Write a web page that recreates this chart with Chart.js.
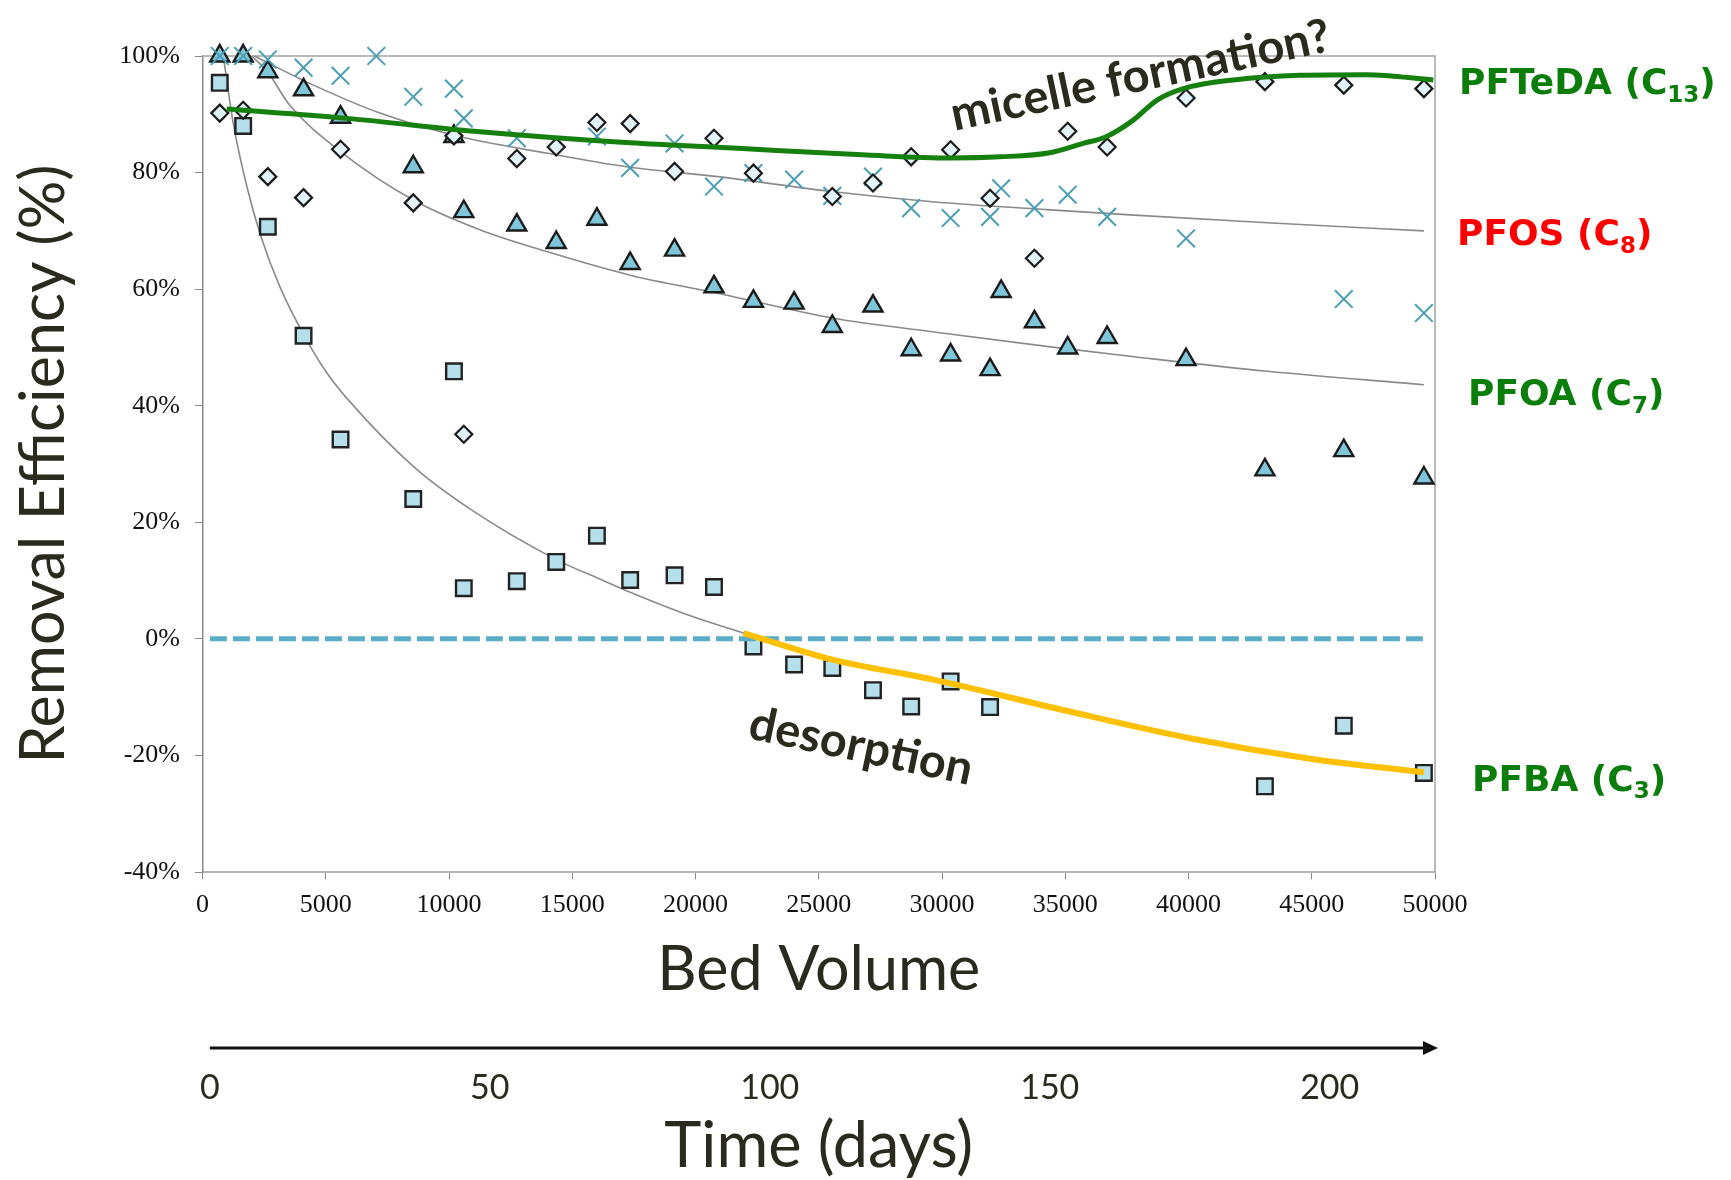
<!DOCTYPE html>
<html lang="en">
<head>
<meta charset="UTF-8" />
<title>Removal Efficiency vs Bed Volume</title>
<script src="https://cdn.jsdelivr.net/npm/chart.js"></script>
<style>
  body { margin: 0; background: #fff; }
  canvas { display: block; }
</style>
</head>
<body>
<canvas id="chart" width="1731" height="1180"></canvas>
<script>
// measured points: bed volume -> removal efficiency (%)
const pftedaBv  = [700, 1650, 2650, 4100, 5600, 8550, 10200, 10600, 12750, 14350, 16000, 17350, 19150, 20750, 22350, 25550, 27200, 28750, 30350, 31950, 33750, 35100, 36700, 39900, 43100, 46300, 49550];
const pftedaPct = [90.2, 90.7, 79.3, 75.7, 84.0, 74.8, 86.3, 35.1, 82.4, 84.4, 88.6, 88.4, 80.2, 85.9, 79.9, 75.9, 78.2, 82.7, 83.9, 75.6, 65.3, 87.1, 84.4, 92.8, 95.6, 95.0, 94.4];

const pfosBv  = [700, 1650, 2650, 4100, 5600, 7050, 8550, 10200, 10600, 12750, 16000, 17350, 19150, 20750, 22350, 24000, 25550, 27200, 28750, 30350, 31950, 32400, 33750, 35100, 36700, 39900, 46300, 49550];
const pfosPct = [100, 100, 99.4, 98.0, 96.6, 100, 93.0, 94.4, 89.3, 85.9, 86.2, 80.8, 85.0, 77.6, 79.9, 78.8, 76.0, 79.3, 73.9, 72.2, 72.4, 77.3, 73.9, 76.2, 72.4, 68.7, 58.3, 55.9];

const pfoaBv  = [700, 1650, 2650, 4100, 5600, 8550, 10200, 10600, 12750, 14350, 16000, 17350, 19150, 20750, 22350, 24000, 25550, 27200, 28750, 30350, 31950, 32400, 33750, 35100, 36700, 39900, 43100, 46300, 49550];
const pfoaPct = [100, 100, 97.3, 94.2, 89.5, 81.0, 86.2, 73.3, 71.0, 68.0, 72.0, 64.4, 66.7, 60.4, 57.9, 57.6, 53.6, 57.1, 49.6, 48.7, 46.2, 59.6, 54.4, 49.9, 51.7, 47.9, 29.0, 32.3, 27.6];

const pfbaBv  = [700, 1650, 2650, 4100, 5600, 8550, 10200, 10600, 12750, 14350, 16000, 17350, 19150, 20750, 22350, 24000, 25550, 27200, 28750, 30350, 31950, 43100, 46300, 49550];
const pfbaPct = [95.4, 88.0, 70.7, 52.0, 34.2, 24.0, 45.9, 8.7, 9.9, 13.2, 17.7, 10.1, 10.9, 8.9, -1.3, -4.4, -5.0, -8.8, -11.6, -7.3, -11.7, -25.3, -14.9, -23.0];

// trend lines
const pfosFitBv  = [2100, 4500, 7200, 10200, 14000, 17200, 20900, 25600, 29600, 34400, 37800, 43200, 49550];
const pfosFitPct = [100, 95, 90.2, 86.4, 83.3, 81.0, 79.3, 76.7, 75.0, 73.6, 72.7, 71.4, 70.0];

const pfoaFitBv  = [2000, 2650, 3550, 5600, 8550, 11250, 14000, 17350, 20900, 25600, 29600, 34400, 37800, 43200, 49550];
const pfoaFitPct = [100, 97.2, 91.5, 83.6, 75.3, 70.2, 66.4, 62.4, 59.3, 55.0, 52.7, 50.1, 48.4, 45.9, 43.6];

const pfbaFitBv  = [850, 1250, 1800, 2350, 3150, 4130, 5050, 5850, 8550, 10850, 14350, 16100, 17400, 19500, 21950, 25600, 29650, 35000, 40000, 45000, 49550];
const pfbaFitPct = [99.8, 88.4, 77.6, 69.3, 60.3, 52.0, 45.6, 41.3, 29.6, 22.3, 13.6, 10.3, 7.9, 4.4, 1.0, -3.6, -7.0, -12.3, -17.0, -20.6, -22.9];

const desorptionBv  = [21950, 25600, 29650, 35000, 40000, 45000, 49550];
const desorptionPct = [1.0, -3.6, -7.0, -12.3, -17.0, -20.6, -22.9];

const micelleBv  = [980, 5850, 11260, 17340, 21530, 26950, 30330, 32350, 34380, 35730, 36680, 37760, 38710, 39790, 41820, 44520, 47230, 49930];
const micellePct = [90.9, 89.3, 87.0, 85.1, 84.2, 83.0, 82.5, 82.7, 83.4, 85.0, 86.2, 89.0, 92.4, 94.4, 95.9, 96.7, 96.8, 95.9];

const zeroBv  = [300, 49600];
const zeroPct = [0, 0];

// axes
const bvTicks  = [0, 5000, 10000, 15000, 20000, 25000, 30000, 35000, 40000, 45000, 50000];
const pctTicks = [-40, -20, 0, 20, 40, 60, 80, 100];
const dayTicks = [0, 50, 100, 150, 200];

// labels on the right (name, subscript, colour, level in %)
const seriesNames  = ['PFTeDA (C', 'PFOS (C', 'PFOA (C', 'PFBA (C'];
const seriesSubs   = ['13', '8', '7', '3'];
const seriesColors = ['#0a7d0a', '#ff0000', '#0a7d0a', '#0a7d0a'];
const seriesLevels = [95.7, 69.8, 42.4, -23.8];
const seriesShift  = [24, 22, 33, 37];

// rotated notes
const noteTexts  = ['micelle formation?', 'desorption'];
const noteBv     = [38050, 26710];
const notePct    = [96.6, -18.5];
const noteAngles = [-12, 12];

const pts = (xs, ys) => xs.map((x, i) => ({ x: x, y: ys[i] }));
const dark = '#2b2a1e';

const markers = (label, xs, ys, style, radius, fill, stroke, bw) => ({
  label: label,
  data: pts(xs, ys),
  showLine: false,
  pointStyle: style,
  pointRadius: radius,
  pointBackgroundColor: fill,
  pointBorderColor: stroke,
  pointBorderWidth: bw,
  clip: false
});

const curve = (label, xs, ys, color, width) => ({
  label: label,
  data: pts(xs, ys),
  showLine: true,
  borderColor: color,
  borderWidth: width,
  pointRadius: 0,
  cubicInterpolationMode: 'monotone',
  clip: false
});

const overlay = {
  id: 'overlay',
  beforeDatasetsDraw(chart) {
    const { ctx, chartArea: a } = chart;
    ctx.save();
    ctx.strokeStyle = '#a3a3a3';
    ctx.lineWidth = 1.5;
    ctx.beginPath();
    ctx.moveTo(a.left, a.top);
    ctx.lineTo(a.right, a.top);
    ctx.lineTo(a.right, a.bottom);
    ctx.stroke();
    ctx.restore();
  },
  afterDraw(chart) {
    const { ctx, chartArea: a, scales } = chart;
    ctx.save();

    // time arrow, from day 0 to past the plot's right edge
    const t = scales.x2;
    const ay = t.top;
    const tip = a.right + 3;
    ctx.strokeStyle = '#111';
    ctx.lineWidth = 3;
    ctx.beginPath();
    ctx.moveTo(t.getPixelForValue(dayTicks[0]), ay);
    ctx.lineTo(tip - 10, ay);
    ctx.stroke();
    ctx.fillStyle = '#111';
    ctx.beginPath();
    ctx.moveTo(tip, ay);
    ctx.lineTo(tip - 15, ay - 7);
    ctx.lineTo(tip - 15, ay + 7);
    ctx.closePath();
    ctx.fill();

    // notes
    ctx.fillStyle = dark;
    ctx.font = 'bold 47px Lato';
    ctx.textAlign = 'center';
    ctx.textBaseline = 'middle';
    noteTexts.forEach((txt, i) => {
      ctx.save();
      ctx.translate(scales.x.getPixelForValue(noteBv[i]), scales.y.getPixelForValue(notePct[i]));
      ctx.rotate(noteAngles[i] * Math.PI / 180);
      ctx.fillText(txt, 0, 0);
      ctx.restore();
    });

    // compound labels with subscripts
    ctx.textAlign = 'left';
    ctx.textBaseline = 'alphabetic';
    const size = 36;
    seriesNames.forEach((name, i) => {
      let x = a.right + seriesShift[i];
      const base = scales.y.getPixelForValue(seriesLevels[i]) + size * 0.36;
      ctx.fillStyle = seriesColors[i];
      ctx.font = 'bold ' + size + 'px "DejaVu Sans"';
      ctx.fillText(name, x, base);
      x += ctx.measureText(name).width;
      ctx.font = 'bold ' + Math.round(size * 0.65) + 'px "DejaVu Sans"';
      ctx.fillText(seriesSubs[i], x, base + size * 0.22);
      x += ctx.measureText(seriesSubs[i]).width;
      ctx.font = 'bold ' + size + 'px "DejaVu Sans"';
      ctx.fillText(')', x, base);
    });
    ctx.restore();
  }
};

new Chart(document.getElementById('chart'), {
  type: 'scatter',
  data: {
    datasets: [
      curve('PFTeDA trend', micelleBv, micellePct, '#16800f', 5),
      curve('desorption', desorptionBv, desorptionPct, '#ffc000', 6),
      Object.assign(curve('zero', zeroBv, zeroPct, '#5badc7', 5), { borderDash: [17, 6] }),
      markers('PFTeDA', pftedaBv, pftedaPct, 'rectRot', 8.5, '#e2f4f9', '#1b1b1b', 2.2),
      markers('PFOS', pfosBv, pfosPct, 'crossRot', 12.5, '#4a9db5', '#4a9db5', 2),
      markers('PFOA', pfoaBv, pfoaPct, 'triangle', 11, '#80c6da', '#1b1b1b', 2.4),
      markers('PFBA', pfbaBv, pfbaPct, 'rect', 11, '#b5dfea', '#222', 2.4),
      curve('PFOS fit', pfosFitBv, pfosFitPct, '#8a8a8a', 1.6),
      curve('PFOA fit', pfoaFitBv, pfoaFitPct, '#8a8a8a', 1.6),
      curve('PFBA fit', pfbaFitBv, pfbaFitPct, '#8a8a8a', 1.6)
    ]
  },
  options: {
    responsive: false,
    animation: false,
    events: [],
    devicePixelRatio: 1,
    layout: { padding: { top: 56, right: 296, left: 0, bottom: 0 } },
    plugins: { legend: { display: false }, tooltip: { enabled: false } },
    scales: {
      x: {
        type: 'linear',
        position: 'bottom',
        weight: 0,
        min: 0,
        max: 50000,
        afterBuildTicks: s => { s.ticks = bvTicks.map(v => ({ value: v })); },
        afterFit: s => { s.height = 176; },
        grid: { drawOnChartArea: false, drawTicks: true, tickLength: 7.5, color: '#8a8a8a' },
        border: { color: '#b5b5b5', width: 2 },
        ticks: {
          padding: 10,
          maxRotation: 0,
          autoSkip: false,
          color: '#111',
          font: { family: '"Liberation Serif"', size: 26 },
          callback: v => String(v)
        },
        title: {
          display: true,
          text: 'Bed Volume',
          color: dark,
          font: { family: 'Lato', size: 61, lineHeight: 1 },
          padding: { top: 0, bottom: 47 }
        }
      },
      x2: {
        type: 'linear',
        axis: 'x',
        position: 'bottom',
        weight: 1,
        min: -1.3,
        max: 218.8,
        afterBuildTicks: s => { s.ticks = dayTicks.map(v => ({ value: v })); },
        afterFit: s => { s.height = 132; },
        grid: { display: false, drawTicks: false },
        border: { display: false },
        ticks: {
          padding: 20,
          maxRotation: 0,
          autoSkip: false,
          color: dark,
          font: { family: 'Lato', size: 34 },
          callback: v => String(v)
        },
        title: {
          display: true,
          text: 'Time (days)',
          color: dark,
          font: { family: 'Lato', size: 63, lineHeight: 1 },
          padding: { top: 0, bottom: 2 }
        }
      },
      y: {
        type: 'linear',
        min: -40,
        max: 100,
        afterBuildTicks: s => { s.ticks = pctTicks.map(v => ({ value: v })); },
        afterFit: s => { s.width = 202.5; },
        grid: { drawOnChartArea: false, drawTicks: true, tickLength: 7.5, color: '#8a8a8a' },
        border: { color: '#8a8a8a', width: 1.5 },
        ticks: {
          padding: 15,
          color: '#111',
          font: { family: '"Liberation Serif"', size: 26 },
          callback: v => v + '%'
        },
        title: {
          display: true,
          text: 'Removal Efficiency (%)',
          color: dark,
          font: { family: 'Lato', size: 61, lineHeight: 1 },
          padding: { top: 14, bottom: 0 }
        }
      }
    }
  },
  plugins: [overlay]
});
</script>
</body>
</html>
